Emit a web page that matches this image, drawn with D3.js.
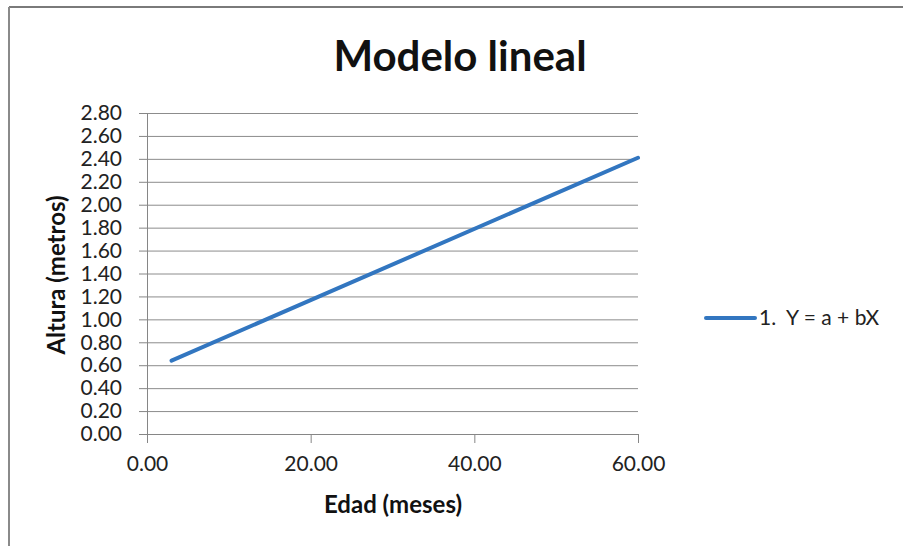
<!DOCTYPE html>
<html>
<head>
<meta charset="utf-8">
<script src="https://cdn.jsdelivr.net/npm/d3@7"></script>
<style>
  html, body { margin: 0; padding: 0; background: #fff; }
  svg { display: block; font-family: Lato, "Open Sans", sans-serif; }
</style>
</head>
<body>
<svg id="chart" width="903" height="546"></svg>
<script>
// Modelo lineal: altura (m) en función de la edad (meses)
const edad = [3, 60];
const altura = [0.64, 2.41];
const xTicks = [0, 20, 40, 60];
const yTicks = [0, 0.2, 0.4, 0.6, 0.8, 1.0, 1.2, 1.4, 1.6, 1.8, 2.0, 2.2, 2.4, 2.6, 2.8];
const serieNombre = "1.  Y = a + bX";
const titulo = "Modelo lineal";
const tituloX = "Edad (meses)";
const tituloY = "Altura (metros)";

const svg = d3.select("#chart");
const plot = { left: 147, right: 638, top: 113, bottom: 434 };

const x = d3.scaleLinear().domain([0, 60]).range([plot.left, plot.right]);
const y = d3.scaleLinear().domain([0, 2.8]).range([plot.bottom, plot.top]);

// outer frame (top and left edges)
svg.append("line").attr("x1", 9).attr("x2", 903).attr("y1", 7).attr("y2", 7)
  .attr("stroke", "#7a7a7a").attr("stroke-width", 2);
svg.append("line").attr("x1", 9).attr("x2", 9).attr("y1", 7).attr("y2", 546)
  .attr("stroke", "#8a8a8a").attr("stroke-width", 2);

// horizontal gridlines
const grid = svg.append("g").attr("transform", `translate(${plot.left},0)`)
  .call(d3.axisRight(y).tickValues(yTicks).tickSize(plot.right - plot.left).tickFormat(""));
grid.select(".domain").remove();
grid.selectAll(".tick line").attr("stroke", "#8c8c8c").attr("stroke-width", 1);

// y axis
const yAxis = svg.append("g").attr("transform", `translate(${plot.left},0)`)
  .call(d3.axisLeft(y).tickValues(yTicks).tickSize(8).tickPadding(17).tickFormat(d3.format(".2f")));
yAxis.select(".domain").attr("stroke", "#868686");
yAxis.selectAll(".tick line").attr("stroke", "#868686");
yAxis.selectAll(".tick text").attr("font-size", 21).attr("fill", "#222")
  .attr("font-family", "Lato, sans-serif");

// x axis
const xAxis = svg.append("g").attr("transform", `translate(0,${plot.bottom})`)
  .call(d3.axisBottom(x).tickValues(xTicks).tickSize(9).tickSizeOuter(0).tickPadding(13).tickFormat(d3.format(".2f")));
xAxis.select(".domain").attr("stroke", "#868686");
xAxis.selectAll(".tick line").attr("stroke", "#868686");
xAxis.selectAll(".tick text").attr("font-size", 21).attr("fill", "#222")
  .attr("font-family", "Lato, sans-serif");

// series line
const pts = edad.map((d, i) => [d, altura[i]]);
svg.append("path")
  .datum(pts)
  .attr("d", d3.line().x(d => x(d[0])).y(d => y(d[1])))
  .attr("fill", "none")
  .attr("stroke", "#3276c0")
  .attr("stroke-width", 4)
  .attr("stroke-linecap", "round");

// title
svg.append("text").attr("x", 460).attr("y", 71).attr("text-anchor", "middle")
  .attr("font-size", 42).attr("font-weight", "bold").attr("fill", "#111")
  .text(titulo);

// axis titles
svg.append("text").attr("x", 393).attr("y", 513).attr("text-anchor", "middle")
  .attr("font-size", 24).attr("font-weight", "bold").attr("fill", "#111")
  .text(tituloX);
svg.append("text").attr("transform", "translate(65,275) rotate(-90)").attr("text-anchor", "middle")
  .attr("font-size", 24).attr("font-weight", "bold").attr("fill", "#111")
  .text(tituloY);

// legend
const leg = svg.append("g");
leg.append("line").attr("x1", 706).attr("x2", 755).attr("y1", 318).attr("y2", 318)
  .attr("stroke", "#3276c0").attr("stroke-width", 4).attr("stroke-linecap", "round");
leg.append("text").attr("x", 759).attr("y", 325).attr("font-size", 21).attr("fill", "#222")
  .style("white-space", "pre").text(serieNombre);
</script>
</body>
</html>
